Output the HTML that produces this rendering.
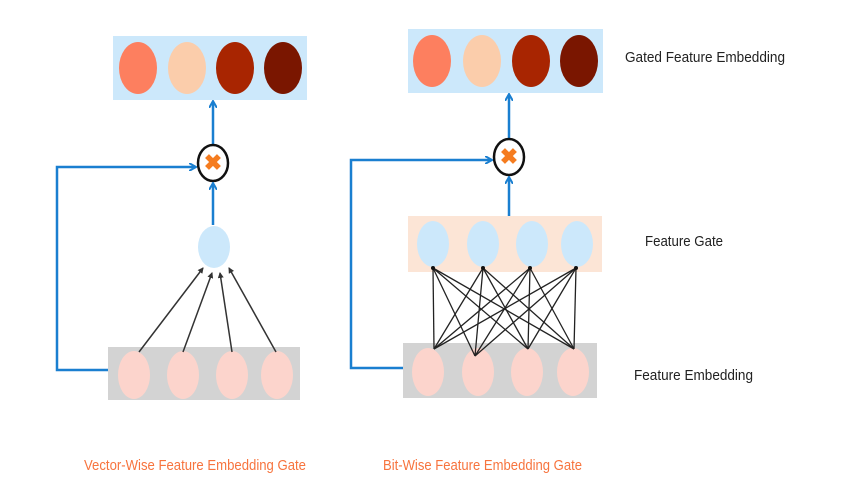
<!DOCTYPE html>
<html><head><meta charset="utf-8"><style>html,body{margin:0;padding:0;background:#fff;}svg{display:block}</style></head><body>
<svg width="866" height="484" viewBox="0 0 866 484" xmlns="http://www.w3.org/2000/svg" font-family="Liberation Sans, sans-serif">
<defs>
<marker id="ab" markerWidth="8" markerHeight="8" refX="6" refY="4" orient="auto" markerUnits="userSpaceOnUse"><path d="M0,0 L7,4 L0,8" fill="none" stroke="#1a7fd0" stroke-width="2"/></marker>
<marker id="ak" markerWidth="6" markerHeight="6" refX="5" refY="3" orient="auto" markerUnits="userSpaceOnUse"><path d="M0,0 L6,3 L0,6 z" fill="#333"/></marker>
</defs>
<!-- LEFT -->
<rect x="113" y="36" width="194" height="64" fill="#cce8fb"/>
<ellipse cx="138" cy="68" rx="19" ry="26" fill="#fd7f5f"/>
<ellipse cx="187" cy="68" rx="19" ry="26" fill="#fbcdab"/>
<ellipse cx="235" cy="68" rx="19" ry="26" fill="#a82501"/>
<ellipse cx="283" cy="68" rx="19" ry="26" fill="#7a1600"/>
<line x1="213" y1="144" x2="213" y2="102" stroke="#1a7fd0" stroke-width="2.5" marker-end="url(#ab)"/>
<ellipse cx="213" cy="163" rx="15" ry="18" fill="#fff" stroke="#111" stroke-width="2.5"/>
<text x="213" y="170" font-size="22" font-weight="bold" fill="#f57c1f" text-anchor="middle">✖</text>
<line x1="213" y1="225" x2="213" y2="184" stroke="#1a7fd0" stroke-width="2.5" marker-end="url(#ab)"/>
<ellipse cx="214" cy="247" rx="16" ry="21" fill="#cce8fb"/>
<rect x="108" y="347" width="192" height="53" fill="#d3d3d3"/>
<ellipse cx="134" cy="375" rx="16" ry="24" fill="#fcd4cc"/>
<ellipse cx="183" cy="375" rx="16" ry="24" fill="#fcd4cc"/>
<ellipse cx="232" cy="375" rx="16" ry="24" fill="#fcd4cc"/>
<ellipse cx="277" cy="375" rx="16" ry="24" fill="#fcd4cc"/>
<g stroke="#333" stroke-width="1.5">
<line x1="139" y1="352" x2="203" y2="268" marker-end="url(#ak)"/>
<line x1="183" y1="352" x2="212" y2="273" marker-end="url(#ak)"/>
<line x1="232" y1="352" x2="220" y2="273" marker-end="url(#ak)"/>
<line x1="276" y1="352" x2="229" y2="268" marker-end="url(#ak)"/>
</g>
<polyline points="108,370 57,370 57,167 195,167" fill="none" stroke="#1a7fd0" stroke-width="2.5" marker-end="url(#ab)"/>
<!-- RIGHT -->
<rect x="408" y="29" width="195" height="64" fill="#cce8fb"/>
<ellipse cx="432" cy="61" rx="19" ry="26" fill="#fd7f5f"/>
<ellipse cx="482" cy="61" rx="19" ry="26" fill="#fbcdab"/>
<ellipse cx="531" cy="61" rx="19" ry="26" fill="#a82501"/>
<ellipse cx="579" cy="61" rx="19" ry="26" fill="#7a1600"/>
<line x1="509" y1="138" x2="509" y2="95" stroke="#1a7fd0" stroke-width="2.5" marker-end="url(#ab)"/>
<ellipse cx="509" cy="157" rx="15" ry="18" fill="#fff" stroke="#111" stroke-width="2.5"/>
<text x="509" y="164" font-size="22" font-weight="bold" fill="#f57c1f" text-anchor="middle">✖</text>
<line x1="509" y1="216" x2="509" y2="178" stroke="#1a7fd0" stroke-width="2.5" marker-end="url(#ab)"/>
<rect x="408" y="216" width="194" height="56" fill="#fce5d6"/>
<ellipse cx="433" cy="244" rx="16" ry="23" fill="#cce8fb"/>
<ellipse cx="483" cy="244" rx="16" ry="23" fill="#cce8fb"/>
<ellipse cx="532" cy="244" rx="16" ry="23" fill="#cce8fb"/>
<ellipse cx="577" cy="244" rx="16" ry="23" fill="#cce8fb"/>
<rect x="403" y="343" width="194" height="55" fill="#d3d3d3"/>
<ellipse cx="428" cy="372" rx="16" ry="24" fill="#fcd4cc"/>
<ellipse cx="478" cy="372" rx="16" ry="24" fill="#fcd4cc"/>
<ellipse cx="527" cy="372" rx="16" ry="24" fill="#fcd4cc"/>
<ellipse cx="573" cy="372" rx="16" ry="24" fill="#fcd4cc"/>
<g stroke="#222" stroke-width="1.3">
<line x1="434" y1="349" x2="433" y2="268"/><line x1="434" y1="349" x2="483" y2="268"/><line x1="434" y1="349" x2="530" y2="268"/><line x1="434" y1="349" x2="576" y2="268"/>
<line x1="475" y1="356" x2="433" y2="268"/><line x1="475" y1="356" x2="483" y2="268"/><line x1="475" y1="356" x2="530" y2="268"/><line x1="475" y1="356" x2="576" y2="268"/>
<line x1="528" y1="349" x2="433" y2="268"/><line x1="528" y1="349" x2="483" y2="268"/><line x1="528" y1="349" x2="530" y2="268"/><line x1="528" y1="349" x2="576" y2="268"/>
<line x1="574" y1="349" x2="433" y2="268"/><line x1="574" y1="349" x2="483" y2="268"/><line x1="574" y1="349" x2="530" y2="268"/><line x1="574" y1="349" x2="576" y2="268"/>
</g>
<g fill="#111"><circle cx="433" cy="268" r="2"/><circle cx="483" cy="268" r="2"/><circle cx="530" cy="268" r="2"/><circle cx="576" cy="268" r="2"/></g>
<polyline points="403,368 351,368 351,160 491,160" fill="none" stroke="#1a7fd0" stroke-width="2.5" marker-end="url(#ab)"/>
<!-- labels -->
<g font-size="15" fill="#222">
<text x="625" y="62" textLength="160" lengthAdjust="spacingAndGlyphs">Gated Feature Embedding</text>
<text x="645" y="246" textLength="78" lengthAdjust="spacingAndGlyphs">Feature Gate</text>
<text x="634" y="380" textLength="119" lengthAdjust="spacingAndGlyphs">Feature Embedding</text>
</g>
<g font-size="15" fill="#f7743e">
<text x="84" y="470" textLength="222" lengthAdjust="spacingAndGlyphs">Vector-Wise Feature Embedding Gate</text>
<text x="383" y="470" textLength="199" lengthAdjust="spacingAndGlyphs">Bit-Wise Feature Embedding Gate</text>
</g>
</svg>
</body></html>
